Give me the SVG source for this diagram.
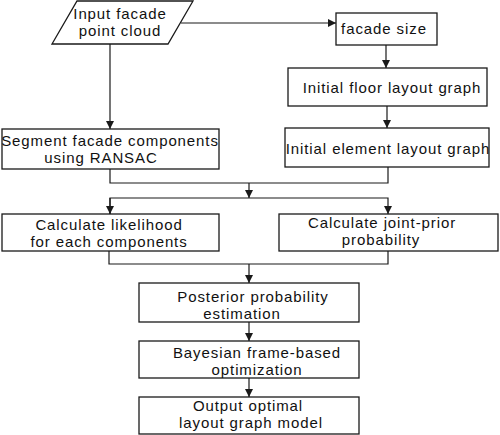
<svg xmlns="http://www.w3.org/2000/svg" width="500" height="435" viewBox="0 0 500 435">
<style>
.box{fill:#fff;stroke:#1a1a1a;stroke-width:1.3}
.ln{fill:none;stroke:#1a1a1a;stroke-width:1.2}
text{font-family:"Liberation Sans",Arial,sans-serif;font-size:15px;letter-spacing:0.9px;fill:#111;text-anchor:middle}
</style>
<defs>
<marker id="ah" markerWidth="8" markerHeight="8" refX="8" refY="4" orient="auto" markerUnits="userSpaceOnUse">
<path d="M0,0 L8,4 L0,8 Z" fill="#1a1a1a"/>
</marker>
</defs>
<rect width="500" height="435" fill="#fff"/>
<g id="connectors">
<path class="ln" d="M181,23 H336" marker-end="url(#ah)"/>
<path class="ln" d="M110,44 V129" marker-end="url(#ah)"/>
<path class="ln" d="M386,45 V68" marker-end="url(#ah)"/>
<path class="ln" d="M387,106 V128" marker-end="url(#ah)"/>
<path class="ln" d="M110,169 V183 H388 V167"/>
<path class="ln" d="M249,183 V198" marker-end="url(#ah)"/>
<path class="ln" d="M110,214 V198 H388 V214" marker-end="url(#ah)"/>
<path class="ln" d="M110,198 V214" marker-end="url(#ah)"/>
<path class="ln" d="M109,251 V264 H388 V251"/>
<path class="ln" d="M249,264 V283" marker-end="url(#ah)"/>
<path class="ln" d="M249,322 V341" marker-end="url(#ah)"/>
<path class="ln" d="M249,378 V397" marker-end="url(#ah)"/>
</g>
<g id="input">
<polygon class="box" points="77,1 193,1 168,44 52,44"/>
<text x="120" y="19">Input facade</text>
<text x="120" y="36">point cloud</text>
</g>
<g id="facade-size">
<rect class="box" x="336" y="13" width="101" height="32"/>
<text x="384" y="34">facade size</text>
</g>
<g id="floor-layout">
<rect class="box" x="288" y="68" width="199" height="38"/>
<text x="392" y="93">Initial floor layout graph</text>
</g>
<g id="segment">
<rect class="box" x="2" y="129" width="217" height="40"/>
<text x="110" y="146">Segment facade components</text>
<text x="101" y="163">using RANSAC</text>
</g>
<g id="element-layout">
<rect class="box" x="285" y="128" width="204" height="39"/>
<text x="388" y="154">Initial element layout graph</text>
</g>
<g id="likelihood">
<rect class="box" x="2" y="214" width="217" height="37"/>
<text x="109" y="230">Calculate likelihood</text>
<text x="109" y="247">for each components</text>
</g>
<g id="joint-prior">
<rect class="box" x="279" y="214" width="219" height="37"/>
<text x="382" y="228">Calculate joint-prior</text>
<text x="381" y="245">probability</text>
</g>
<g id="posterior">
<rect class="box" x="139" y="283" width="220" height="39"/>
<text x="253" y="302">Posterior probability</text>
<text x="242" y="319">estimation</text>
</g>
<g id="bayesian">
<rect class="box" x="139" y="341" width="220" height="37"/>
<text x="257" y="358">Bayesian frame-based</text>
<text x="257" y="375">optimization</text>
</g>
<g id="output">
<rect class="box" x="139" y="397" width="220" height="37"/>
<text x="248" y="411">Output optimal</text>
<text x="251" y="428">layout graph model</text>
</g>
</svg>
